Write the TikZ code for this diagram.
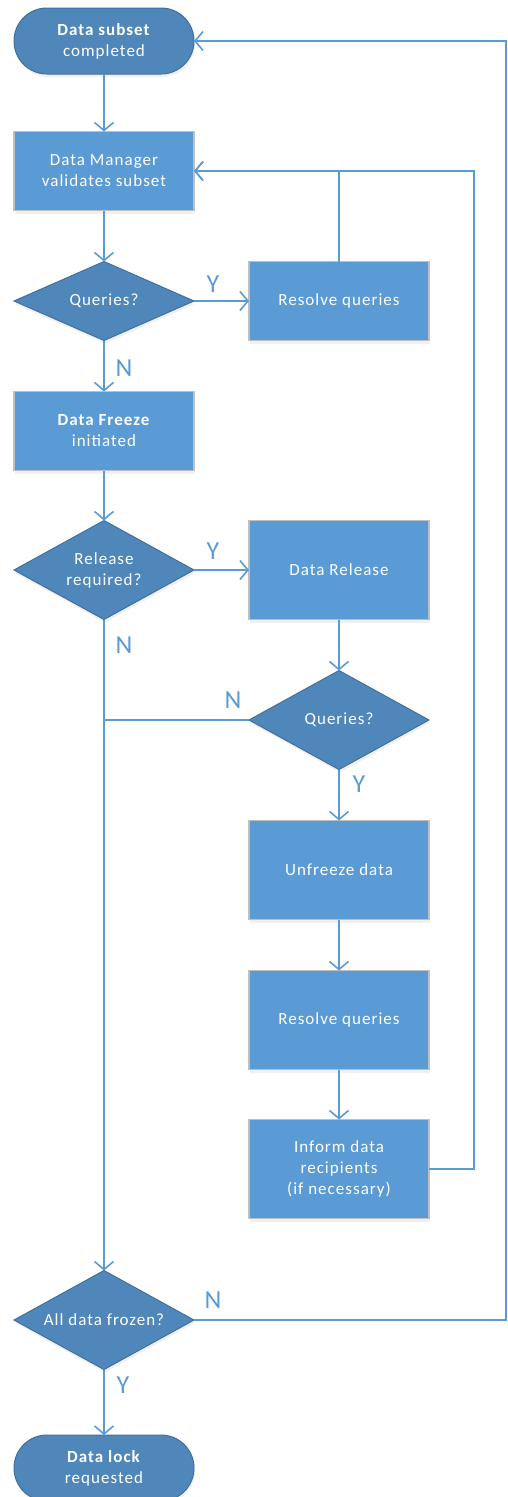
\documentclass[tikz,border=0pt]{standalone}
\usepackage{fontspec}
\setmainfont{Carlito}[LetterSpace=6]
\usetikzlibrary{shapes.geometric,arrows.meta,shadows}
\definecolor{boxfill}{HTML}{5B9BD5}
\definecolor{darkfill}{HTML}{4F87BA}
\definecolor{darkline}{HTML}{41719C}
\definecolor{boxline}{HTML}{BFBFBF}
\definecolor{conn}{HTML}{5B9BD5}
\begin{document}
\begin{tikzpicture}[x=1pt,y=-1pt,
  every node/.style={inner sep=0pt, outer sep=0pt},
  txt/.style={text=white, align=center, font=\fontsize{17}{21}\selectfont},
  shade/.style={drop shadow={opacity=0.12, shadow xshift=1pt, shadow yshift=-3pt}},
  term/.style={txt, shade, rectangle, rounded corners=32.9pt, fill=darkfill, draw=darkline, line width=1pt, minimum width=180pt, minimum height=66pt},
  procbox/.style={txt, shade, rectangle, fill=boxfill, draw=boxline, line width=1.5pt, minimum width=180pt, minimum height=#1},
  procbox/.default=79pt,
  decis/.style={txt, shade, diamond, shape aspect=2, fill=darkfill, draw=darkline, line width=1pt, minimum width=180pt, minimum height=#1},
  decis/.default=79pt,
  conn/.style={draw=conn, line width=1.6pt},
  arr/.style={conn, -{Straight Barb[length=8pt,width=19pt,line width=1.6pt]}},
  yn/.style={text=conn, font=\fontsize{26}{26}\selectfont\addfontfeature{LetterSpace=0}}
]
\useasboundingbox (0,0) rectangle (507,1497);
\clip (0,0) rectangle (507,1497);

\node[term] (t1) at (104,41) {\textbf{Data subset}\\completed};
\node[procbox] (b1) at (104,171) {Data Manager\\validates subset};
\node[decis] (q1) at (104,301) {Queries?};
\node[procbox] (rq1) at (339,301) {Resolve queries};
\node[procbox] (df) at (104,431) {\textbf{Data Freeze}\\initiated};
\node[decis=99pt] (rr) at (104,570) {Release\\required?};
\node[procbox=99pt] (dr) at (339,570) {Data Release};
\node[decis=99pt] (q2) at (339,720) {Queries?};
\node[procbox=99pt] (uf) at (339,870) {Unfreeze data};
\node[procbox=99pt] (rq2) at (339,1020) {Resolve queries};
\node[procbox=99pt] (inf) at (339,1169) {Inform data\\recipients\\(if necessary)};
\node[decis=99pt] (adf) at (104,1320) {All data frozen?};
\node[term] (t2) at (104,1468) {\textbf{Data lock}\\requested};

\coordinate (rx) at (474,171);
\coordinate (rtop) at (506,41);

\draw[arr] (t1) -- (b1);
\draw[arr] (b1) -- (q1);
\draw[arr] (q1) -- (rq1);
\draw[arr] (q1) -- (df);
\draw[arr] (rq1.north) |- (b1.east);
\draw[arr] (df) -- (rr);
\draw[arr] (rr) -- (dr);
\draw[arr] (rr) -- (adf);
\draw[arr] (dr) -- (q2);
\draw[conn] (q2.west) -- (q2.west -| rr.south);
\draw[arr] (q2) -- (uf);
\draw[arr] (uf) -- (rq2);
\draw[arr] (rq2) -- (inf);
\draw[arr] (inf.east) -| (rx) -- (b1.east);
\draw[arr] (adf.east) -| (rtop) -- (t1.east);
\draw[arr] (adf) -- (t2);

\node[yn] (ly1) at (213,284) {Y};
\node[yn] (ln1) at (124,368) {N};
\node[yn] (ly2) at (213,551) {Y};
\node[yn] (ln2) at (124,645) {N};
\node[yn] (ln3) at (233,700) {N};
\node[yn] (ly3) at (359,784) {Y};
\node[yn] (ln4) at (213,1300) {N};
\node[yn] (ly4) at (123,1385) {Y};
\end{tikzpicture}
\end{document}
